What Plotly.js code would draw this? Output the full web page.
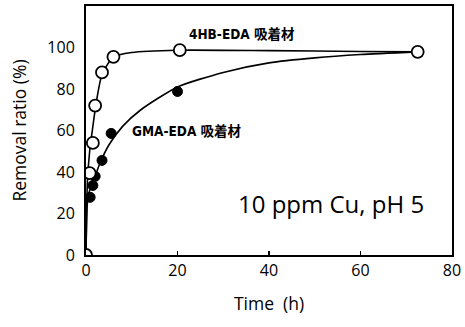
<!DOCTYPE html>
<html><head><meta charset="utf-8">
<script src="https://cdn.plot.ly/plotly-3.0.1.min.js"></script>
<style>html,body{margin:0;padding:0;background:#fff}</style>
</head><body><div id="chart" style="width:465px;height:327px"></div>
<script>
// Measured points
const hbTime  = [0, 0.8, 1.5, 2.0, 3.5, 6.0, 20.5, 72.5];
const hbRatio = [0, 39.5, 54, 72, 88, 95.5, 98.7, 97.9];
const gmaTime  = [0, 0.9, 1.5, 2.0, 3.5, 5.5, 20.0, 72.5];
const gmaRatio = [0, 27.8, 33.5, 37.9, 45.6, 58.6, 78.8, 97.9];
// Fitted curves
const hbCurveT = [0, 0.3, 0.8, 1.5, 2.2, 3.5, 6, 10, 20, 40, 60, 72.5];
const hbCurveY = [0, 35, 50, 62, 73, 87, 95.5, 97.6, 98.7, 98.5, 98.1, 97.9];
const gmaCurveT = [0, 0.3, 1, 2, 3, 5, 8, 12, 20, 30, 40, 50, 60, 72.5];
const gmaCurveY = [0, 25, 33, 38, 44, 53, 62, 70, 81, 88, 92.6, 95, 96.6, 97.9];
const xTicks = [0, 20, 40, 60, 80];
const yTicks = [0, 20, 40, 60, 80, 100];

const lineStyle = {color: '#000', width: 1.6, shape: 'spline', smoothing: 0.6};
const data = [
  {x: gmaCurveT, y: gmaCurveY, mode: 'lines', line: lineStyle, hoverinfo: 'skip'},
  {x: hbCurveT, y: hbCurveY, mode: 'lines', line: lineStyle, hoverinfo: 'skip'},
  {x: gmaTime, y: gmaRatio, mode: 'markers',
   marker: {size: 10, color: '#000', line: {color: '#000', width: 1}}},
  {x: hbTime, y: hbRatio, mode: 'markers',
   marker: {size: 12, color: '#fff', line: {color: '#000', width: 1.8}}}
];
const tickFont = {family: 'Open Sans, Liberation Sans, sans-serif', size: 16, color: '#000'};
const layout = {
  width: 465, height: 327,
  margin: {l: 85.5, r: 12.5, t: 6, b: 72},
  showlegend: false,
  paper_bgcolor: '#fff', plot_bgcolor: '#fff',
  xaxis: {
    range: [0, 80], tickvals: xTicks, ticktext: xTicks.map(String),
    ticks: 'inside', ticklen: 4, tickwidth: 1.5, tickcolor: '#000',
    showline: true, linecolor: '#000', linewidth: 2, mirror: true,
    showgrid: false, zeroline: false, tickfont: tickFont,
    title: {text: 'Time  (h)', font: {family: 'Open Sans, sans-serif', size: 17.5, color: '#000'}, standoff: 18}
  },
  yaxis: {
    range: [0, 120], tickvals: yTicks, ticktext: yTicks.map(String),
    ticks: '', ticklabelstandoff: 6,
    showline: true, linecolor: '#000', linewidth: 2, mirror: true,
    showgrid: false, zeroline: false, tickfont: tickFont,
    title: {text: 'Removal ratio (%)', font: {family: 'Open Sans, sans-serif', size: 17.5, color: '#000'}, standoff: 16}
  },
  annotations: [
    {x: 242, y: 34, text: '<b>4HB-EDA 吸着材</b>', showarrow: false,
     font: {family: 'DejaVu Sans Condensed, Noto Sans CJK JP, sans-serif', size: 13.5, color: '#000'}},
    {x: 187, y: 131, text: '<b>GMA-EDA 吸着材</b>', showarrow: false,
     font: {family: 'DejaVu Sans Condensed, Noto Sans CJK JP, sans-serif', size: 13.5, color: '#000'}},
    {x: 331, y: 203, text: '10 ppm Cu, pH 5', showarrow: false,
     font: {family: 'Open Sans, sans-serif', size: 24, color: '#000'}}
  ]
};
// convert pixel-placed annotations to data coordinates via axis scale
const px2x = p => (p - 85.5) / (452.5 - 85.5) * 80;
const px2y = p => (255 - p) / (255 - 6) * 120;
layout.annotations.forEach(a => { a.xref = 'x'; a.yref = 'y'; a.x = px2x(a.x); a.y = px2y(a.y); });
Plotly.newPlot('chart', data, layout, {staticPlot: true});
</script></body></html>
